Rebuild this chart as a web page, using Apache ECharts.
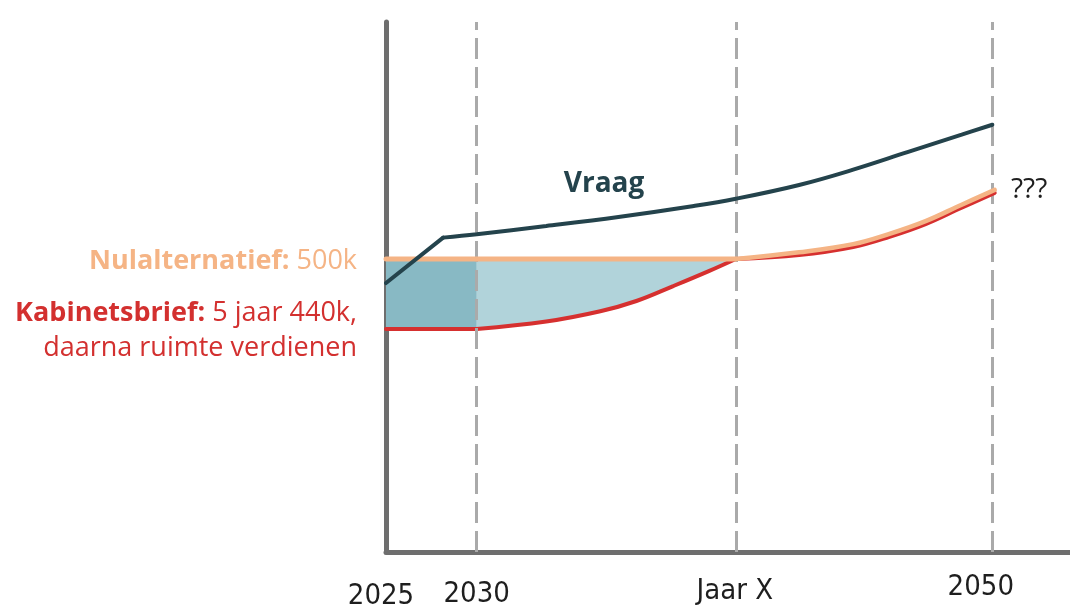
<!DOCTYPE html>
<html>
<head>
<meta charset="utf-8">
<script src="https://cdn.jsdelivr.net/npm/echarts@6/dist/echarts.min.js"></script>
<style>
html,body{margin:0;padding:0;background:#fff;}
#c{width:1070px;height:608px;}
</style>
</head>
<body>
<div id="c"></div>
<script>
// x positions of the stylised time axis (2025 = 0, 2030 = 5)
const xTickPos = [0, 5, 19.28, 33.39];
const xTickLabels = ['2025', '2030', 'Jaar X', '2050'];

// Vraag (demand)
const vraagStart = [[0, 479.4], [3.15, 518.3]];
const vraagCurve = [[3.15, 518.3], [5, 521.2], [8.83, 528.2], [12.81, 536.0], [16.79, 545.0], [19.28, 551.6],
  [22.77, 563.4], [25.75, 576.5], [28.74, 591.5], [31.73, 606.5], [33.42, 615.0]];

// Nulalternatief
const nulFlat = [[0, 500], [19.28, 500]];
const nulCurve = [[19.28, 500], [22.77, 505.7], [25.75, 512.7], [27.75, 521.5], [29.74, 532.4], [31.73, 546.5], [33.55, 559.2]];

// Kabinetsbrief
const kabFlat = [[0, 440], [5, 440]];
const kabRise = [[5, 440], [8.83, 446.4], [11.81, 455.2], [13.8, 464.0], [15.8, 476.6], [17.79, 489.6], [19.28, 500]];
const kabAfter = [[19.28, 500], [22.77, 503.4], [25.75, 510.3], [27.75, 519.0], [29.74, 529.9], [31.73, 544.0], [33.55, 556.6]];

const nulLevel = 500;

const C_VRAAG = '#24434c', C_NUL = '#f5b485', C_KAB = '#d6302f';
const C_DARK = '#88b9c4', C_LIGHT = '#b1d3da', C_AXIS = '#6e6e6e', C_DASH = '#aaaaaa';
const FONT = '"Open Sans", Lato, sans-serif';

const chart = echarts.init(document.getElementById('c'), null, {renderer: 'canvas'});

const labelPad = {
  '2025': [14, 10, 0, 0],
  '2030': [12, 0, 0, 0],
  'Jaar X': [9, 2, 0, 0],
  '2050': [5, 22, 0, 0]
};
const rich = {};
xTickLabels.forEach((l, i) => {
  rich['t' + i] = {
    fontFamily: '"Liberation Sans Narrow","DejaVu Sans Condensed",sans-serif',
    fontSize: 29, color: '#1e1e1e', padding: labelPad[l]
  };
});

const lineBase = {type: 'line', showSymbol: false, symbol: 'none', silent: true, animation: false};

const option = {
  animation: false,
  grid: {left: 386, right: 0, top: 22, bottom: 56, outerBoundsMode: 'none'},
  xAxis: {
    type: 'value', min: 0, max: 37.7,
    axisLine: {show: true, onZero: false, lineStyle: {color: C_AXIS, width: 5}},
    axisTick: {show: false},
    splitLine: {show: false},
    axisLabel: {
      show: true, customValues: xTickPos, margin: 16, verticalAlign: 'top',
      formatter: function (v) {
        const i = xTickPos.indexOf(v);
        return i < 0 ? '' : '{t' + i + '|' + xTickLabels[i] + '}';
      },
      rich: rich
    }
  },
  yAxis: {
    type: 'value', min: 249, max: 703,
    axisLine: {show: true, onZero: false, lineStyle: {color: C_AXIS, width: 5}},
    axisTick: {show: false}, axisLabel: {show: false}, splitLine: {show: false}
  },
  series: [
    Object.assign({}, lineBase, {
      name: 'kabRise', data: kabRise, smooth: 0.4, z: 2,
      lineStyle: {color: C_KAB, width: 4, cap: 'round'},
      areaStyle: {color: C_LIGHT, opacity: 1, origin: nulLevel}
    }),
    Object.assign({}, lineBase, {
      name: 'kabFlat', data: kabFlat, z: 2,
      lineStyle: {color: C_KAB, width: 4, cap: 'round'},
      areaStyle: {color: C_DARK, opacity: 1, origin: nulLevel}
    }),
    Object.assign({}, lineBase, {
      name: 'kabAfter', data: kabAfter, smooth: 0.4, z: 4,
      lineStyle: {color: C_KAB, width: 4, cap: 'round'}
    }),
    Object.assign({}, lineBase, {
      name: 'nulFlat', data: nulFlat, z: 5,
      lineStyle: {color: C_NUL, width: 5, cap: 'round'}
    }),
    Object.assign({}, lineBase, {
      name: 'nulCurve', data: nulCurve, smooth: 0.4, z: 5,
      lineStyle: {color: C_NUL, width: 4.5, cap: 'round'}
    }),
    Object.assign({}, lineBase, {
      name: 'vraagStart', data: vraagStart, z: 6,
      lineStyle: {color: C_VRAAG, width: 4, cap: 'round'}
    }),
    Object.assign({}, lineBase, {
      name: 'vraagCurve', data: vraagCurve, smooth: 0.4, z: 6,
      lineStyle: {color: C_VRAAG, width: 4, cap: 'round'},
      markLine: {
        silent: true, symbol: 'none', animation: false, z: 3,
        label: {show: false},
        lineStyle: {color: C_DASH, width: 3, type: [21, 8]},
        data: xTickPos.slice(1).map(v => ({xAxis: v}))
      }
    })
  ],
  graphic: [
    {
      type: 'text', x: 357, y: 261, z: 10,
      style: {
        text: '{b|Nulalternatief:}{n| 500k}', align: 'right', verticalAlign: 'middle',
        rich: {
          b: {fontFamily: FONT, fontWeight: 'bold', fontSize: 27, fill: C_NUL},
          n: {fontFamily: FONT, fontSize: 27, fill: C_NUL}
        }
      }
    },
    {
      type: 'text', x: 357, y: 331, z: 10,
      style: {
        text: '{b|Kabinetsbrief:}{n| 5 jaar 440k,}\n{n|daarna ruimte verdienen}', align: 'right', verticalAlign: 'middle',
        rich: {
          b: {fontFamily: FONT, fontWeight: 'bold', fontSize: 27, fill: '#d3302f', lineHeight: 35},
          n: {fontFamily: FONT, fontSize: 27, fill: '#d3302f', lineHeight: 35}
        }
      }
    },
    {
      type: 'text', x: 604, y: 184, z: 10,
      style: {text: 'Vraag', align: 'center', verticalAlign: 'middle', fontFamily: FONT, fontWeight: 'bold', fontSize: 28, fill: C_VRAAG}
    },
    {
      type: 'text', x: 1011, y: 190, z: 10,
      style: {text: '???', align: 'left', verticalAlign: 'middle', fontFamily: FONT, fontSize: 28, fill: '#1e1e1e'}
    }
  ]
};
chart.setOption(option);
</script>
</body>
</html>
